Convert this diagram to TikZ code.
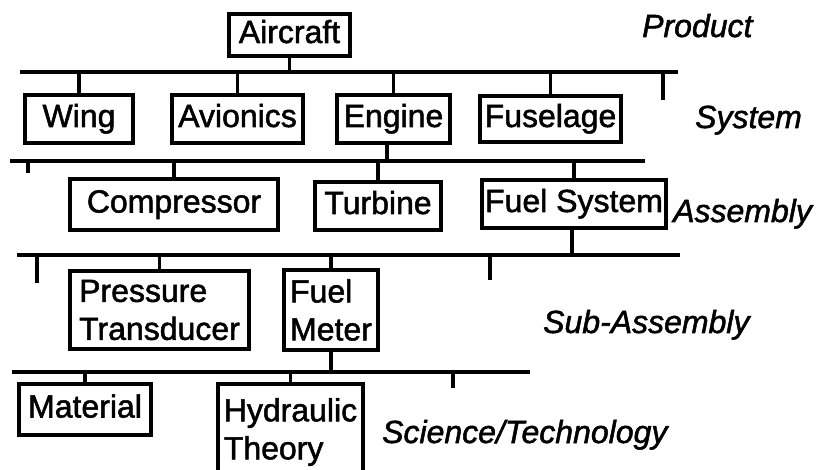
\documentclass[tikz,border=0pt]{standalone}
\usepackage{fontspec}
\setmainfont{Liberation Sans}[RawFeature={embolden=1.6}]
\begin{document}
\begin{tikzpicture}[x=1pt,y=-1pt,
  box/.style={draw, line width=3.5pt, inner sep=0pt, font=\fontsize{32}{38}\selectfont, text height=24pt, text depth=8pt},
  mbox/.style={draw, line width=3.5pt, inner sep=0pt, align=left, font=\fontsize{32}{38}\selectfont},
  bus/.style={line width=3.5pt},
  lvl/.style={anchor=base west, inner sep=0pt, font=\fontsize{32}{38}\selectfont\itshape}]
\useasboundingbox (0,0) rectangle (822,470);
% level labels
\node[lvl] (product) at (642,37) {Product};
\node[lvl] (system) at (695,128) {System};
\node[lvl] (assembly) at (673,222) {Assembly};
\node[lvl] (subassembly) at (543,333) {Sub-Assembly};
\node[lvl] (science) at (382,443) {Science/Technology};
% boxes
\node[box, minimum width=121pt, minimum height=42pt] (aircraft) at (289.5,35) {Aircraft};
\node[box, minimum width=108pt, minimum height=48pt] (wing) at (79,119) {Wing};
\node[box, minimum width=131pt, minimum height=48pt] (avionics) at (237.5,119) {Avionics};
\node[box, minimum width=113pt, minimum height=48pt] (engine) at (393.5,119) {Engine};
\node[box, minimum width=141pt, minimum height=46pt] (fuselage) at (550.5,119) {Fuselage};
\node[box, minimum width=208pt, minimum height=51pt] (compressor) at (174,204.5) {Compressor};
\node[box, minimum width=126pt, minimum height=48pt] (turbine) at (378,206) {Turbine};
\node[box, minimum width=184pt, minimum height=48pt] (fuelsys) at (574,204) {Fuel System};
\node[mbox, minimum width=179pt, minimum height=78pt] (pressure) at (159.5,310) {Pressure\\Transducer};
\node[mbox, minimum width=94pt, minimum height=80pt] (fuelmeter) at (331,310) {Fuel\\Meter};
\node[box, minimum width=132pt, minimum height=51pt] (material) at (85,409.5) {Material};
\node[mbox, minimum width=145pt, minimum height=96pt] (hydraulic) at (290.5,432) {Hydraulic\\Theory};
% bus 1
\coordinate (b1l) at (20,72); \coordinate (b1r) at (678,72);
\coordinate (t1) at (663,100);
\draw[bus] (b1l) -- (b1r);
\draw[bus] (aircraft.south) -- (aircraft.south |- b1l);
\foreach \n in {wing,avionics,engine,fuselage} \draw[bus] (\n.north) -- (\n.north |- b1l);
\draw[bus] (t1 |- b1l) -- (t1);
% bus 2
\coordinate (b2l) at (10,161); \coordinate (b2r) at (645,161);
\coordinate (t2) at (28,173);
\draw[bus] (b2l) -- (b2r);
\draw[bus] ([xshift=-6.5pt]engine.south) -- ([xshift=-6.5pt]engine.south |- b2l);
\foreach \n in {compressor,turbine,fuelsys} \draw[bus] (\n.north) -- (\n.north |- b2l);
\draw[bus] (t2 |- b2l) -- (t2);
% bus 3
\coordinate (b3l) at (17,255); \coordinate (b3r) at (680,255);
\coordinate (t3a) at (37,283); \coordinate (t3b) at (490,280);
\draw[bus] (b3l) -- (b3r);
\draw[bus] ([xshift=-2pt]fuelsys.south) -- ([xshift=-2pt]fuelsys.south |- b3l);
\foreach \n in {pressure,fuelmeter} \draw[bus] (\n.north) -- (\n.north |- b3l);
\draw[bus] (t3a |- b3l) -- (t3a);
\draw[bus] (t3b |- b3l) -- (t3b);
% bus 4
\coordinate (b4l) at (12,372); \coordinate (b4r) at (530,372);
\coordinate (t4) at (453,388);
\draw[bus] (b4l) -- (b4r);
\draw[bus] (fuelmeter.south) -- (fuelmeter.south |- b4l);
\foreach \n in {material,hydraulic} \draw[bus] (\n.north) -- (\n.north |- b4l);
\draw[bus] (t4 |- b4l) -- (t4);
\end{tikzpicture}
\end{document}
